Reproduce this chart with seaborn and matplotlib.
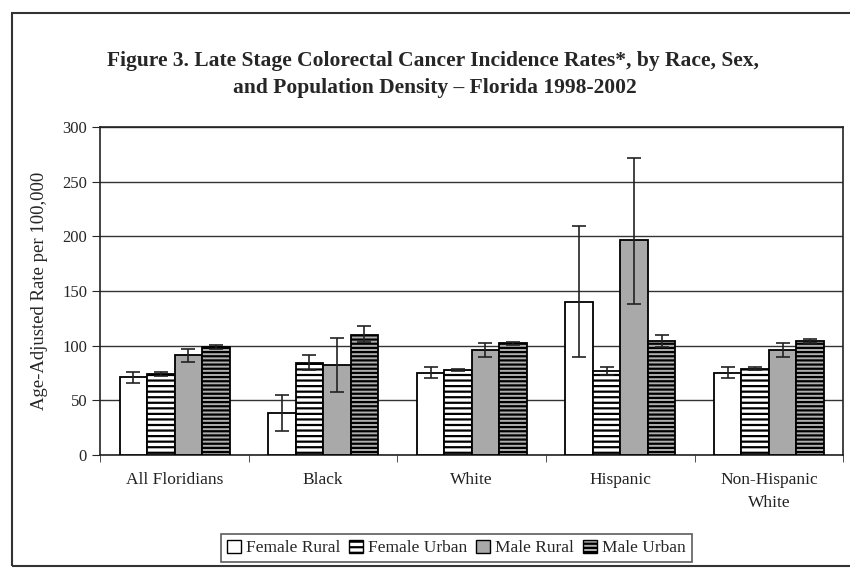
import numpy as np
import pandas as pd
import seaborn as sns
import matplotlib.pyplot as plt
from matplotlib.patches import Rectangle, Patch

# valores
grupos = ["All Floridians", "Black", "White", "Hispanic", "Non-Hispanic\nWhite"]
series = ["Female Rural", "Female Urban", "Male Rural", "Male Urban"]

taxa = {
    "Female Rural": [71, 38, 75, 140, 75],
    "Female Urban": [74, 84, 78, 77, 79],
    "Male Rural":   [91, 82, 96, 197, 96],
    "Male Urban":   [99, 110, 102, 104, 104],
}
ic_inf = {
    "Female Rural": [66, 22, 70, 90, 70],
    "Female Urban": [72, 78, 77, 73, 78],
    "Male Rural":   [85, 58, 90, 138, 90],
    "Male Urban":   [97, 103, 101, 99, 102],
}
ic_sup = {
    "Female Rural": [76, 55, 80, 209, 80],
    "Female Urban": [76, 91, 79, 80, 80],
    "Male Rural":   [97, 107, 102, 272, 102],
    "Male Urban":   [101, 118, 103, 110, 106],
}

linhas = []
for s in series:
    for g, v in zip(grupos, taxa[s]):
        linhas.append({"grupo": g, "serie": s, "taxa": v})
df = pd.DataFrame(linhas)

sns.set_style("white")
plt.rcParams["font.family"] = ["Liberation Serif", "DejaVu Serif"]
plt.rcParams["hatch.linewidth"] = 1.6

fig = plt.figure(figsize=(8.5, 5.69), dpi=100)
ax = fig.add_axes([0.118, 0.2004, 0.874, 0.5766])

cores = {"Female Rural": "white", "Female Urban": "white",
         "Male Rural": "#a9a9a9", "Male Urban": "#b0b0b0"}
sns.barplot(data=df, x="grupo", y="taxa", hue="serie", order=grupos,
            hue_order=series, palette=cores, errorbar=None, width=0.74,
            gap=0.0, edgecolor="black", linewidth=1.3, ax=ax, zorder=3,
            legend=False)

hachuras = {"Female Rural": "", "Female Urban": "---", "Male Rural": "", "Male Urban": "----"}
for s, cont in zip(series, ax.containers):
    xs = []
    for p in cont.patches:
        p.set_hatch(hachuras[s])
        xs.append(p.get_x() + p.get_width() / 2)
    v = np.array(taxa[s])
    yerr = [v - np.array(ic_inf[s]), np.array(ic_sup[s]) - v]
    ax.errorbar(xs, v, yerr=yerr, fmt="none", ecolor="#222222", elinewidth=1.2,
                capsize=5, capthick=1.2, zorder=4)

ax.set_ylim(0, 300)
ax.set_yticks(range(0, 301, 50))
ax.yaxis.grid(True, color="#333333", linewidth=1.0)
ax.set_axisbelow(True)
ax.tick_params(axis="y", labelsize=12, length=6, direction="out", left=True)
ax.tick_params(axis="x", labelsize=12.5, length=0, pad=12)
ax.set_xticks(range(len(grupos)))
ax.set_xticklabels(grupos, color="#222222", linespacing=1.6)
ax.set_xticks(np.arange(-0.5, len(grupos), 1), minor=True)
ax.tick_params(axis="x", which="minor", length=5, bottom=True, color="#333333")
ax.set_xlim(-0.5, len(grupos) - 0.5)
ax.set_xlabel("")
ax.set_ylabel("Age-Adjusted Rate per 100,000", fontsize=13.5, labelpad=10)
for lado in ["left", "bottom", "right", "top"]:
    ax.spines[lado].set_visible(True)
    ax.spines[lado].set_color("#222222")
    ax.spines[lado].set_linewidth(1.2)

fig.text(0.509, 0.892, "Figure 3. Late Stage Colorectal Cancer Incidence Rates*, by Race, Sex,",
         ha="center", va="center", fontsize=15.5, weight="bold")
fig.text(0.511, 0.845, "and Population Density \u2013 Florida 1998-2002",
         ha="center", va="center", fontsize=15.5, weight="bold")

handles = [Patch(facecolor=cores[s], edgecolor="black", hatch=hachuras[s], label=s) for s in series]
leg = fig.legend(handles=handles, loc="center", bbox_to_anchor=(0.537, 0.037), ncol=4,
                 fontsize=12.5, frameon=True, fancybox=False, edgecolor="#333333",
                 handlelength=0.8, handleheight=0.8, handletextpad=0.3, columnspacing=0.5,
                 borderpad=0.35)
leg.get_frame().set_linewidth(1.2)

# moldura externa do gráfico
fig.patches.append(Rectangle((0.014, 0.006), 1.2, 0.971, transform=fig.transFigure,
                             fill=False, edgecolor="#333333", linewidth=1.5))

plt.savefig("out.png", dpi=100)
